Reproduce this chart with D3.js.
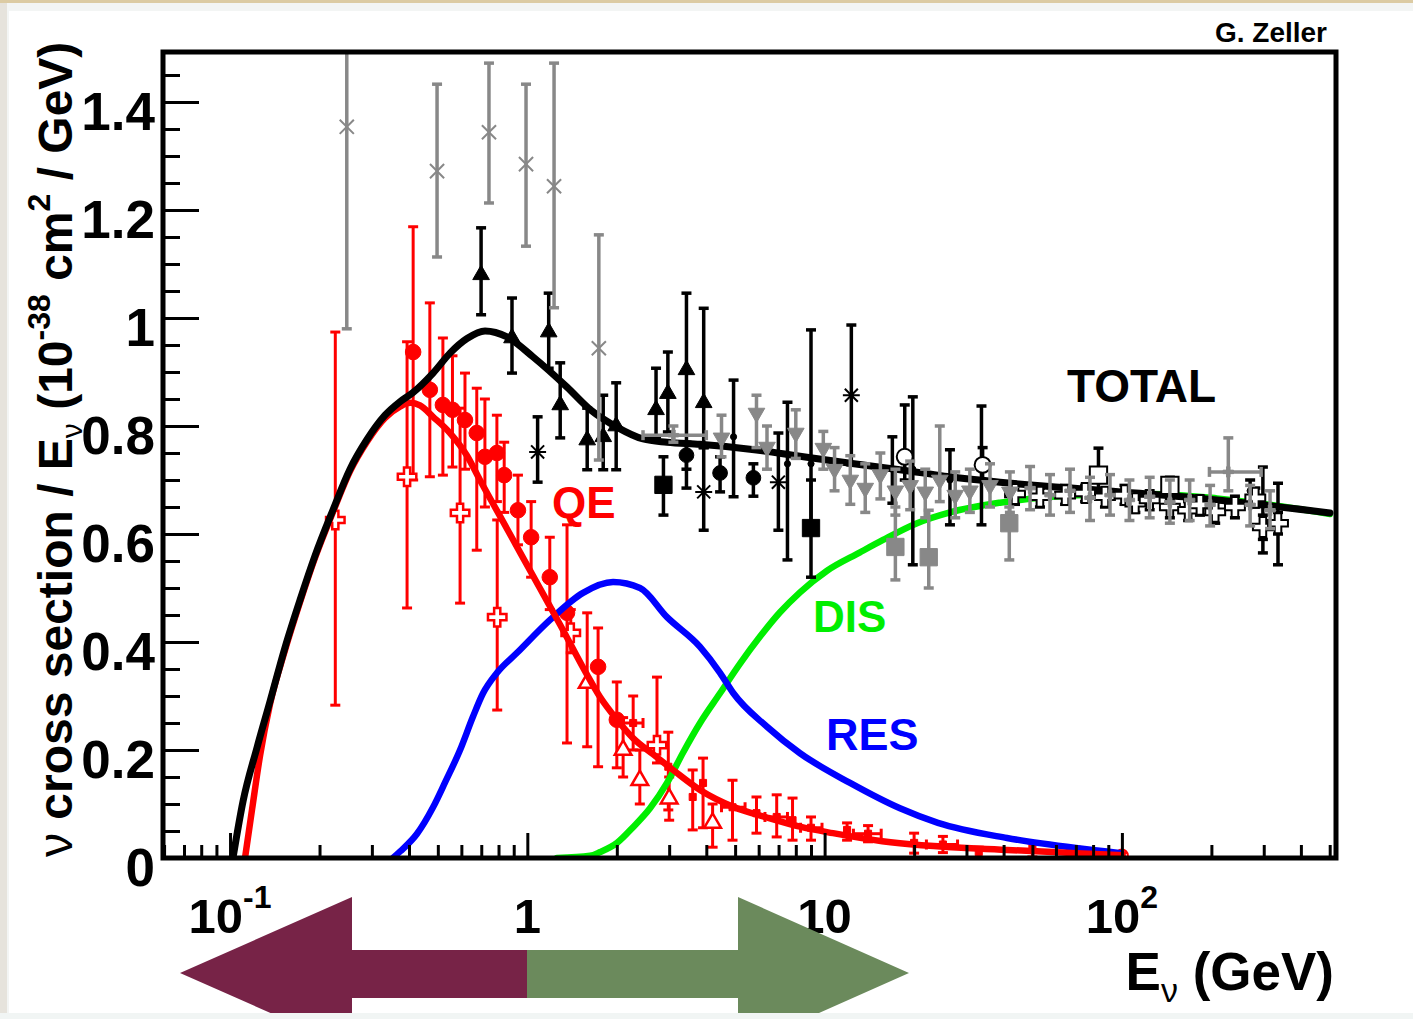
<!DOCTYPE html>
<html><head><meta charset="utf-8">
<script src="https://cdn.jsdelivr.net/npm/d3@7"></script>
<style>html,body{margin:0;padding:0;background:#f3f5f4;}svg{display:block}</style>
</head><body>
<script>
// ---------- curves: [E (GeV), sigma/E] ----------
const totalCurve = [[0.1023,0],[0.1106,0.105],[0.1233,0.205],[0.1363,0.29],[0.1531,0.39],[0.1720,0.478],[0.1932,0.56],[0.2221,0.645],[0.2532,0.72],[0.2889,0.775],[0.3322,0.82],[0.3731,0.845],[0.4126,0.862],[0.4818,0.898],[0.5495,0.935],[0.6269,0.962],[0.7208,0.976],[0.8546,0.965],[1.045,0.928],[1.36,0.872],[1.63,0.830],[2.0,0.798],[2.45,0.776],[2.95,0.770],[3.81,0.766],[5.61,0.757],[8.26,0.744],[12.2,0.731],[17.9,0.719],[26.4,0.706],[38.9,0.696],[84,0.681],[161,0.669],[501,0.639]];
const qeCurve = [[0.1123,0],[0.1186,0.09],[0.1262,0.19],[0.1363,0.285],[0.1531,0.385],[0.1720,0.474],[0.1932,0.556],[0.2221,0.641],[0.2532,0.716],[0.2889,0.771],[0.3322,0.815],[0.3731,0.836],[0.4036,0.843],[0.4355,0.838],[0.4818,0.817],[0.5495,0.787],[0.6269,0.745],[0.6928,0.700],[0.8093,0.633],[0.9451,0.566],[1.1038,0.499],[1.2893,0.432],[1.5854,0.340],[1.7566,0.298],[2.0033,0.256],[2.2676,0.222],[2.6484,0.192],[3.0935,0.163],[3.8105,0.126],[4.9193,0.095],[6.4016,0.075],[8.2656,0.058],[10.672,0.046],[15.63,0.031],[41.07,0.015],[70.09,0.009],[100.6,0.005]];
const resCurve = [[0.3534,0],[0.3731,0.012],[0.4256,0.045],[0.4818,0.094],[0.5288,0.14],[0.5939,0.2],[0.6567,0.262],[0.7096,0.305],[0.7909,0.343],[0.9234,0.38],[1.1923,0.441],[1.5394,0.491],[1.9429,0.511],[2.3935,0.50],[2.9506,0.446],[3.8105,0.391],[4.4482,0.343],[4.9193,0.306],[6.4016,0.243],[8.2656,0.194],[12.178,0.139],[17.93,0.092],[24.06,0.065],[41.07,0.037],[70.09,0.0185],[99.3,0.009]];
const disCurve = [[1.2587,0],[1.6254,0.004],[1.7566,0.011],[2.0033,0.028],[2.2676,0.057],[2.5864,0.092],[2.9506,0.139],[3.3389,0.195],[3.8105,0.25],[4.4482,0.305],[5.1939,0.36],[6.0634,0.41],[7.0795,0.455],[8.2656,0.492],[10.188,0.532],[13.154,0.566],[15.719,0.589],[20.461,0.62],[26.416,0.64],[38.90,0.658],[74.0,0.672],[124.3,0.674],[208.9,0.666],[501.1,0.637]];

// ---------- data points: [E, value, low, high, (Elow, Ehigh)] ----------
const greyX = [[0.247,1.354,0.98,1.62],[0.497,1.272,1.113,1.433],[0.743,1.344,1.213,1.472],[0.99,1.285,1.133,1.433],[1.23,1.244,1.019,1.472],[1.74,0.944,0.737,1.154]];
const greyInvTri = [[4.5,0.778,0.743,0.82],[5.9,0.824,0.76,0.857],[6.4,0.761,0.72,0.80],[8.0,0.787,0.74,0.83],[9.9,0.759,0.72,0.79],
 [10.8,0.72,0.68,0.76],[12.2,0.70,0.655,0.745],[13.7,0.685,0.64,0.73],[15.4,0.71,0.665,0.75],[17.3,0.68,0.635,0.72],[19.4,0.69,0.645,0.735],[21.8,0.678,0.63,0.72],[24.4,0.70,0.66,0.80],[27.5,0.672,0.63,0.715],[30.8,0.68,0.64,0.72],[36.0,0.69,0.65,0.73],[42.0,0.678,0.64,0.715]];
const greyPlus = [[49.1,0.685,0.645,0.725],[57.3,0.672,0.635,0.71],[66.9,0.68,0.64,0.72],[78.1,0.667,0.625,0.705],[91.2,0.672,0.635,0.71],[106,0.663,0.625,0.70],[124,0.669,0.63,0.705],[145,0.659,0.62,0.70],[169,0.663,0.625,0.70],[198,0.654,0.615,0.69],[270,0.654,0.615,0.69],[315,0.644,0.61,0.68]];
const greyXErr = [[3.1,0.783,0.77,0.80,2.45,4.0],[228,0.715,0.68,0.778,197,294]];
const greySquare = [[17.3,0.576,0.515,0.65],[22.4,0.557,0.5,0.644],[41.8,0.62,0.552,0.65]];

const blackTri = [[0.699,1.08,1.006,1.167],[0.888,0.963,0.898,1.037],[1.18,0.974,0.907,1.046],[1.29,0.839,0.778,0.917],[1.59,0.774,0.719,0.833],[1.80,0.78,0.719,0.857],[1.99,0.80,0.719,0.88],[2.71,0.83,0.78,0.907],[2.97,0.86,0.789,0.937],[3.43,0.904,0.685,1.046],[3.92,0.843,0.76,1.018]];
const blackCircle = [[3.43,0.746,0.72,0.77],[4.45,0.713,0.678,0.743],[5.76,0.704,0.67,0.73]];
const blackSquare = [[2.87,0.691,0.635,0.743],[9.0,0.611,0.52,0.70]];
const blackStar = [[1.083,0.752,0.696,0.817],[3.92,0.678,0.607,0.76],[6.99,0.696,0.607,0.787],[12.3,0.857,0.728,0.987]];
const blackDot = [[4.94,0.78,0.669,0.885],[7.5,0.73,0.552,0.844],[9.0,0.73,0.60,0.978],[16.9,0.72,0.657,0.78],[19.8,0.72,0.543,0.854],[26.4,0.70,0.617,0.756],[33.7,0.72,0.617,0.837],[145,0.68,0.66,0.70],[270,0.68,0.66,0.70],[298,0.62,0.565,0.724],[335,0.62,0.543,0.694]];
const blackOpenCircle = [[18.6,0.743,0.70,0.839],[34,0.728,0.70,0.76]];
const blackOpenSquare = [[83.4,0.709,0.68,0.759],[145,0.690,0.675,0.705]];
const blackOpenCross = [[43.7,0.674,0.655,0.69],[53,0.669,0.65,0.685],[64.4,0.672,0.655,0.69],[75.2,0.676,0.66,0.69],[87.7,0.669,0.65,0.685],[102,0.672,0.655,0.69],[111,0.657,0.64,0.675],[124,0.663,0.645,0.68],[145,0.65,0.63,0.665],[167,0.644,0.625,0.66],[183,0.654,0.635,0.67],[206,0.641,0.62,0.66],[240,0.65,0.63,0.67],[281,0.667,0.65,0.685],[298,0.613,0.59,0.635],[335,0.62,0.60,0.64]];

const redCircle = [[0.413,0.937,0.70,1.169],[0.47,0.867,0.706,1.028],[0.52,0.839,0.709,0.963],[0.56,0.83,0.724,0.93],[0.617,0.811,0.72,0.898],[0.676,0.787,0.57,0.87],[0.72,0.743,0.65,0.85],[0.79,0.75,0.66,0.82],[0.836,0.709,0.64,0.77],[0.93,0.644,0.58,0.709],[1.03,0.594,0.52,0.66],[1.19,0.52,0.46,0.594],[1.36,0.454,0.213,0.617],[1.73,0.354,0.169,0.426],[2.0,0.256,0.167,0.326]];
const redOpenCross = [[0.226,0.626,0.283,0.974],[0.394,0.706,0.463,0.956],[0.594,0.639,0.472,0.833],[0.792,0.446,0.274,0.626],[1.40,0.417,0.38,0.46],[2.73,0.209,0.176,0.335]];
const redOpenTri = [[1.59,0.324,0.206,0.454],[2.39,0.144,0.10,0.20],[3.0,0.11,0.07,0.15],[4.2,0.065,0.02,0.10],[2.1,0.20,0.15,0.26]];
const redSmall = [[2.27,0.25,0.2,0.3,2.1,2.45],[2.98,0.169,0.089,0.233],[3.6,0.113,0.052,0.163],[3.9,0.139,0.056,0.185],[4.9,0.094,0.033,0.144,4.5,5.4],[5.9,0.083,0.046,0.113],[6.9,0.076,0.039,0.117,6.3,7.5],[7.8,0.07,0.033,0.111],[9.0,0.056,0.033,0.076,8.3,9.8],[11.9,0.052,0.033,0.065],[14,0.045,0.03,0.06,12.5,15.5],[20,0.028,0.009,0.046],[25,0.025,0.01,0.04,22,28],[33,0.011,0.0,0.02],[50,0.018,0.002,0.028],[70,0.01,0.002,0.02]];
const redOpenCircle = [[100,0.005,0.0,0.01]];

// ---------- axis ticks ----------
const xMajor = [0.1,1,10,100];
const xMajorLabels = [["10","-1"],["1",""],["10",""],["10","2"]];
const xMinor = [0.06,0.07,0.08,0.09,0.2,0.3,0.4,0.5,0.6,0.7,0.8,0.9,2,3,4,5,6,7,8,9,20,30,40,50,60,70,80,90,200,300,400,500];
const yMajor = [0,0.2,0.4,0.6,0.8,1,1.2,1.4];
const yMinor = [0.05,0.1,0.15,0.25,0.3,0.35,0.45,0.5,0.55,0.65,0.7,0.75,0.85,0.9,0.95,1.05,1.1,1.15,1.25,1.3,1.35,1.45];

// ---------- drawing ----------
const W=1413,H=1019, L=163,R=1336,T=52,B=858;
const F="'Liberation Sans', Arial, Helvetica, sans-serif";
const RED="#ff0000", BLUE="#0000ff", GREEN="#00ee00", GREY="#888888";

const svg=d3.select("body").append("svg").attr("width",W).attr("height",H);
svg.append("rect").attr("width",W).attr("height",H).attr("fill","#f3f5f4");
svg.append("rect").attr("x",0).attr("y",0).attr("width",W).attr("height",3).attr("fill","#dccba3");
svg.append("rect").attr("x",0).attr("y",3).attr("width",7).attr("height",H).attr("fill","#e6e3dc");
svg.append("rect").attr("x",9).attr("y",11).attr("width",W-9).attr("height",1002).attr("fill","#ffffff");

const x=d3.scaleLog().domain([0.0595,525]).range([L,R]);
const y=d3.scaleLinear().domain([0,1.4926]).range([B,T]);

svg.append("clipPath").attr("id","clip").append("rect").attr("x",L).attr("y",T).attr("width",R-L).attr("height",B-T);
const plot=svg.append("g").attr("clip-path","url(#clip)");

// axes ticks
const gx=svg.append("g").attr("transform",`translate(0,${B})`);
gx.call(d3.axisBottom(x).tickValues(xMajor).tickSize(-25).tickFormat(""));
const gxm=svg.append("g").attr("transform",`translate(0,${B})`);
gxm.call(d3.axisBottom(x).tickValues(xMinor).tickSize(-13).tickFormat(""));
const gy=svg.append("g").attr("transform",`translate(${L},0)`);
gy.call(d3.axisLeft(y).tickValues(yMajor).tickSize(-36).tickPadding(8).tickFormat(d=>String(+d.toFixed(1))));
const gym=svg.append("g").attr("transform",`translate(${L},0)`);
gym.call(d3.axisLeft(y).tickValues(yMinor).tickSize(-17).tickFormat(""));
[gx,gxm,gy,gym].forEach(g=>{g.select(".domain").remove();g.selectAll(".tick line").attr("stroke","#000").attr("stroke-width",3);});
gy.selectAll(".tick text").attr("font-family",F).attr("font-weight","bold").attr("font-size",53).attr("fill","#000").attr("dy",27);

// x tick labels
xMajor.forEach((v,i)=>{
  const t=svg.append("text").attr("x",x(v)).attr("y",933).attr("text-anchor","middle")
    .attr("font-family",F).attr("font-weight","bold").attr("font-size",49).attr("fill","#000");
  t.append("tspan").text(xMajorLabels[i][0]);
  if(xMajorLabels[i][1]) t.append("tspan").attr("font-size",32).attr("dy",-25).text(xMajorLabels[i][1]);
});

// curves
const line=d3.line().x(d=>x(d[0])).y(d=>y(d[1])).curve(d3.curveMonotoneX);
function curve(data,color,w){plot.append("path").datum(data).attr("d",line).attr("fill","none").attr("stroke",color).attr("stroke-width",w).attr("stroke-linejoin","round").attr("stroke-linecap","round");}

// error bars and markers
function bars(g,data,color,lw,cap){
  data.forEach(d=>{
    const px=x(d[0]);
    g.append("line").attr("x1",px).attr("x2",px).attr("y1",y(d[2])).attr("y2",y(d[3])).attr("stroke",color).attr("stroke-width",lw);
    [d[2],d[3]].forEach(v=>g.append("line").attr("x1",px-cap).attr("x2",px+cap).attr("y1",y(v)).attr("y2",y(v)).attr("stroke",color).attr("stroke-width",lw));
    if(d.length>5){
      const py=y(d[1]);
      g.append("line").attr("x1",x(d[4])).attr("x2",x(d[5])).attr("y1",py).attr("y2",py).attr("stroke",color).attr("stroke-width",lw);
      [d[4],d[5]].forEach(v=>g.append("line").attr("x1",x(v)).attr("x2",x(v)).attr("y1",py-cap).attr("y2",py+cap).attr("stroke",color).attr("stroke-width",lw));
    }
  });
}
function markers(g,data,type,size,fill,stroke,sw,rot){
  const sym=d3.symbol().type(type).size(size);
  g.selectAll(null).data(data).enter().append("path").attr("d",sym)
    .attr("transform",d=>`translate(${x(d[0])},${y(d[1])})${rot?" rotate("+rot+")":""}`)
    .attr("fill",fill).attr("stroke",stroke).attr("stroke-width",sw);
}
const timesSym={draw(ctx,size){const r=Math.sqrt(size)/2;ctx.moveTo(-r,-r);ctx.lineTo(r,r);ctx.moveTo(r,-r);ctx.lineTo(-r,r);}};
const starSym={draw(ctx,size){const r=Math.sqrt(size)/2;ctx.moveTo(-r,-r);ctx.lineTo(r,r);ctx.moveTo(r,-r);ctx.lineTo(-r,r);ctx.moveTo(0,-r*1.3);ctx.lineTo(0,r*1.3);ctx.moveTo(-r*1.3,0);ctx.lineTo(r*1.3,0);}};

// red data (under curves)
const gRed=plot.append("g");
[redCircle,redOpenCross,redOpenTri,redSmall,redOpenCircle].forEach(s=>bars(gRed,s,RED,3,5));
markers(gRed,redCircle,d3.symbolCircle,190,RED,RED,1);
markers(gRed,redSmall,d3.symbolSquare,50,RED,RED,1);
markers(gRed,redOpenTri,d3.symbolTriangle,120,"#fff",RED,2.5);
markers(gRed,redOpenCross,d3.symbolCross,190,"#fff",RED,2.5);
markers(gRed,redOpenCircle,d3.symbolCircle,110,"none",RED,2);

curve(disCurve,GREEN,6.5);
curve(resCurve,BLUE,6.5);
curve(qeCurve,RED,6.5);
curve(totalCurve,"#000",7);

// black data
const gBlk=plot.append("g");
[blackTri,blackCircle,blackSquare,blackStar,blackDot,blackOpenCircle,blackOpenSquare,blackOpenCross].forEach(s=>bars(gBlk,s,"#000",3.5,5));
markers(gBlk,blackTri,d3.symbolTriangle,120,"#000","#000",1);
markers(gBlk,blackCircle,d3.symbolCircle,170,"#000","#000",1);
markers(gBlk,blackSquare,d3.symbolSquare,300,"#000","#000",1);
markers(gBlk,blackStar,starSym,170,"none","#000",2);
markers(gBlk,blackDot,d3.symbolCircle,30,"#000","#000",1);
markers(gBlk,blackOpenCircle,d3.symbolCircle,200,"#fff","#000",2);
markers(gBlk,blackOpenSquare,d3.symbolSquare,300,"#fff","#000",2);
markers(gBlk,blackOpenCross,d3.symbolCross,220,"#fff","#000",2);

// grey data
const gGr=plot.append("g");
[greyX,greyInvTri,greyPlus,greyXErr,greySquare].forEach(s=>bars(gGr,s,GREY,3.5,5));
markers(gGr,greyX,timesSym,200,"none",GREY,2);
markers(gGr,greyInvTri,d3.symbolTriangle,120,GREY,GREY,1,180);
markers(gGr,greyPlus,d3.symbolCross,60,GREY,GREY,1);
markers(gGr,greySquare,d3.symbolSquare,300,GREY,GREY,1);
markers(gGr,greyXErr,d3.symbolCross,60,GREY,GREY,1);

// frame
svg.append("rect").attr("x",L).attr("y",T).attr("width",R-L).attr("height",B-T).attr("fill","none").attr("stroke","#000").attr("stroke-width",5);

// labels
function label(txt,x0,y0,size,color,anchor){svg.append("text").attr("x",x0).attr("y",y0).attr("font-family",F).attr("font-weight","bold").attr("font-size",size).attr("fill",color).attr("text-anchor",anchor||"start").text(txt);}
label("G. Zeller",1327,42,28,"#000","end");
label("TOTAL",1067,402,46,"#000");
label("QE",552,518,44,RED);
label("DIS",813,632,44,GREEN);
label("RES",826,750,45,BLUE);

// y title
const yl=svg.append("text").attr("transform","translate(72,857) rotate(-90)").attr("font-family",F).attr("font-weight","bold").attr("font-size",48).attr("fill","#000");
yl.append("tspan").attr("font-weight","normal").text("ν");
yl.append("tspan").text(" cross section / E");
yl.append("tspan").attr("font-size",30).attr("font-weight","normal").attr("dy",10).text("ν");
yl.append("tspan").attr("dy",-10).text(" (10");
yl.append("tspan").attr("font-size",32).attr("dy",-22).text("-38");
yl.append("tspan").attr("dy",22).text(" cm");
yl.append("tspan").attr("font-size",32).attr("dy",-22).text("2");
yl.append("tspan").attr("dy",22).text(" / GeV)");

// x title
const xl=svg.append("text").attr("x",1334).attr("y",990).attr("text-anchor","end").attr("font-family",F).attr("font-weight","bold").attr("font-size",53).attr("fill","#000");
xl.append("tspan").text("E");
xl.append("tspan").attr("font-size",34).attr("font-weight","normal").attr("dy",12).text("ν");
xl.append("tspan").attr("dy",-12).text(" (GeV)");

// arrows (decoration)
svg.append("polygon").attr("points","180,973 352,897 352,950 527,950 527,998 352,998 352,1049").attr("fill","#772347");
svg.append("polygon").attr("points","527,950 738,950 738,897 909,973 738,1049 738,998 527,998").attr("fill","#6b8a5c");
svg.append("rect").attr("x",0).attr("y",1013).attr("width",W).attr("height",6).attr("fill","#f1f5f4");
</script>
</body></html>
